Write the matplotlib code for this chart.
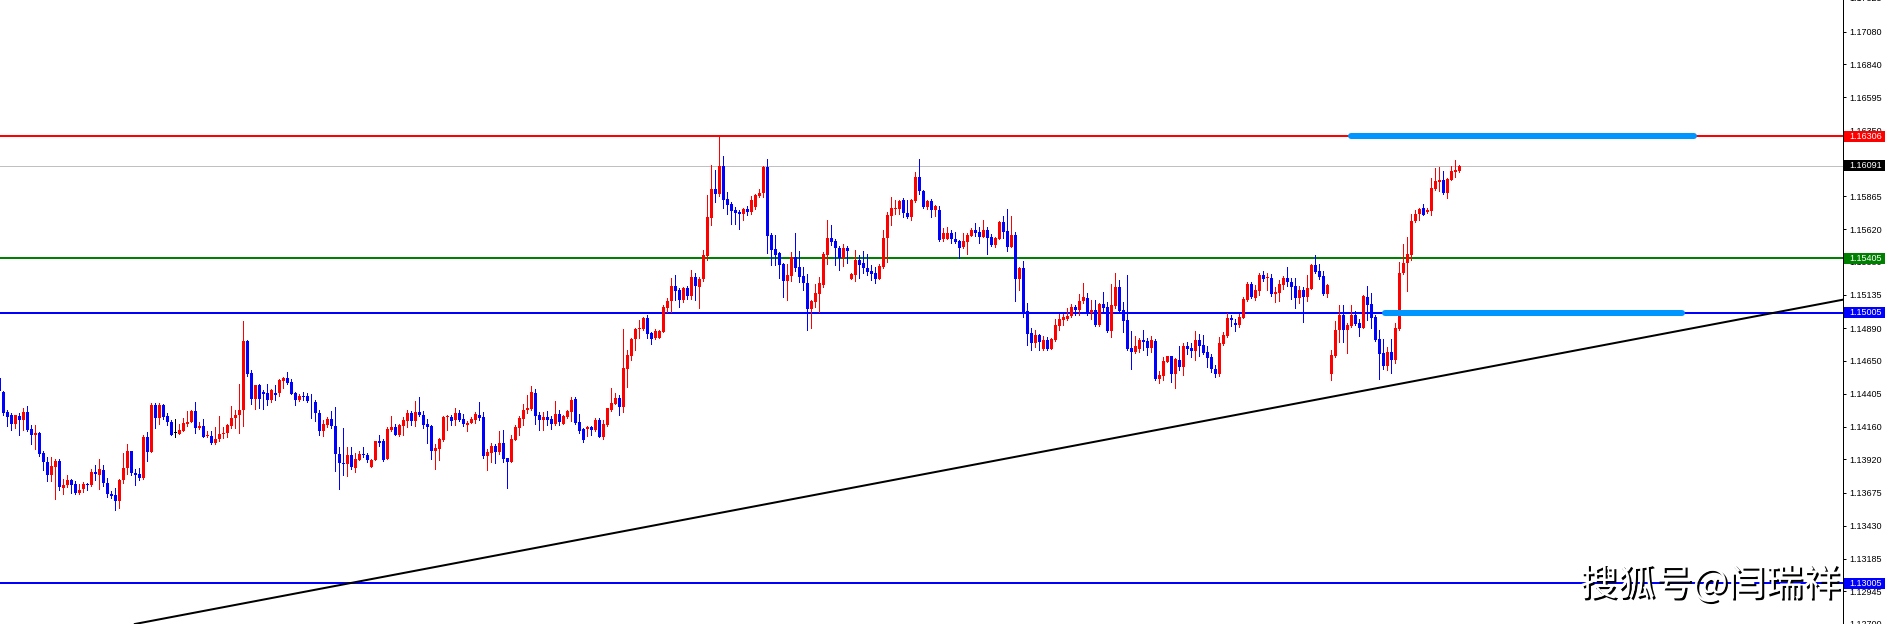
"""
EURUSD style candlestick chart (MT4 look) with support/resistance levels.
"""

import numpy as np
import matplotlib
matplotlib.use("Agg")  # no display
import matplotlib.pyplot as plt
import matplotlib.transforms as mtransforms
import matplotlib.patheffects as pe
from matplotlib.patches import Rectangle

plt.rcParams["font.family"] = ["Liberation Sans", "DejaVu Sans"]

# prices in points (1 point = 0.00001), one entry per bar
opens = np.array([
    114520, 114422, 114272, 114245, 114183, 114242, 114208, 114272, 114146, 114104,
    114116, 113969, 113903, 113802, 113868, 113910, 113706, 113728, 113770, 113740,
    113672, 113704, 113740, 113728, 113829, 113809, 113844, 113745, 113667, 113659,
    113610, 113765, 113859, 113984, 113819, 113814, 113780, 114087, 113976, 114319,
    114223, 114324, 114242, 114196, 114114, 114109, 114134, 114183, 114198, 114279,
    114149, 114171, 114092, 114094, 114043, 114070, 114109, 114112, 114171, 114225,
    114245, 114282, 114796, 114560, 114370, 114471, 114417, 114410, 114363, 114410,
    114410, 114503, 114520, 114491, 114410, 114363, 114392, 114392, 114348, 114346,
    114260, 114134, 114176, 114220, 114168, 113957, 113896, 113886, 113954, 113859,
    113918, 113962, 113954, 113868, 113918, 114058, 114058, 113925, 114141, 114159,
    114102, 114168, 114205, 114264, 114205, 114272, 114247, 114183, 114168, 113986,
    114001, 114065, 114232, 114235, 114208, 114264, 114220, 114176, 114193, 114213,
    114249, 114235, 113949, 113969, 114023, 113974, 114043, 113930, 113900, 114067,
    114156, 114220, 114284, 114294, 114412, 114247, 114213, 114235, 114220, 114183,
    114257, 114183, 114235, 114272, 114368, 114197, 114145, 114143, 114158, 114138,
    114212, 114089, 114175, 114286, 114332, 114377, 114310, 114591, 114687, 114807,
    114884, 114884, 114965, 114857, 114815, 114820, 114865, 115042, 115091, 115202,
    115175, 115098, 115185, 115130, 115268, 115197, 115251, 115426, 115707, 115918,
    115881, 116088, 115844, 115808, 115763, 115748, 115736, 115771, 115748, 115788,
    115869, 115886, 116083, 115578, 115475, 115443, 115364, 115241, 115276, 115416,
    115342, 115276, 115221, 115032, 115081, 115143, 115207, 115431, 115556, 115534,
    115485, 115408, 115480, 115253, 115283, 115394, 115372, 115337, 115312, 115298,
    115256, 115342, 115556, 115719, 115773, 115770, 115837, 115743, 115711, 115829,
    116007, 115903, 115785, 115829, 115763, 115760, 115549, 115549, 115595, 115549,
    115534, 115487, 115527, 115573, 115615, 115600, 115566, 115615, 115563, 115504,
    115549, 115674, 115608, 115492, 115578, 115253, 115334, 115017, 114852, 114783,
    114840, 114736, 114803, 114736, 114803, 114909, 114950, 114955, 114980, 115046,
    115024, 115091, 115110, 115005, 115024, 114913, 115069, 115044, 114869, 115054,
    115197, 115024, 114950, 114744, 114714, 114736, 114803, 114795, 114746, 114795,
    114515, 114539, 114643, 114684, 114551, 114655, 114601, 114758, 114744, 114721,
    114803, 114766, 114714, 114677, 114588, 114551, 114773, 114832, 114965, 114928,
    114916, 114965, 115098, 115216, 115115, 115167, 115280, 115261, 115261, 115142,
    115150, 115209, 115261, 115231, 115201, 115115, 115172, 115123, 115182, 115357,
    115312, 115275, 115142, 114552, 114687, 114877, 114987, 114877, 114909, 114987,
    114931, 114894, 115123, 115069, 114973, 114810, 114707, 114611, 114716, 114657,
    114884, 115295, 115369, 115428, 115682, 115731, 115778, 115748, 115755, 115920,
    115972, 115984, 115888, 115987, 116044, 116053,
]) / 1e5

highs = np.array([
    114533, 114429, 114282, 114267, 114252, 114267, 114302, 114316, 114176, 114176,
    114121, 113984, 113942, 113940, 113925, 113922, 113775, 113807, 113777, 113758,
    113740, 113753, 113743, 113853, 113878, 113925, 113878, 113782, 113684, 113708,
    113777, 113967, 114031, 113986, 113849, 113856, 114099, 114124, 114338, 114336,
    114338, 114329, 114267, 114213, 114220, 114181, 114223, 114279, 114287, 114341,
    114196, 114220, 114134, 114127, 114161, 114242, 114161, 114181, 114316, 114284,
    114478, 114943, 114803, 114582, 114471, 114476, 114434, 114476, 114442, 114471,
    114513, 114530, 114565, 114515, 114415, 114407, 114417, 114410, 114407, 114360,
    114284, 114213, 114235, 114279, 114304, 114009, 114154, 114011, 114009, 113969,
    113986, 114011, 113967, 113922, 114060, 114102, 114073, 114159, 114242, 114183,
    114181, 114237, 114286, 114279, 114353, 114382, 114279, 114220, 114173, 114035,
    114080, 114242, 114247, 114249, 114301, 114286, 114254, 114205, 114232, 114272,
    114345, 114272, 113996, 114043, 114033, 114131, 114139, 113932, 114099, 114176,
    114240, 114331, 114397, 114464, 114441, 114272, 114272, 114279, 114240, 114353,
    114286, 114249, 114286, 114382, 114382, 114256, 114150, 114167, 114167, 114224,
    114226, 114212, 114303, 114446, 114414, 114399, 114884, 114729, 114820, 114894,
    114950, 114975, 114987, 114862, 114881, 114879, 115062, 115116, 115258, 115283,
    115185, 115192, 115202, 115320, 115300, 115266, 115468, 115874, 116096, 116059,
    116302, 116162, 115899, 115820, 115783, 115761, 115778, 115793, 115869, 115879,
    115916, 116088, 116140, 115593, 115578, 115453, 115374, 115364, 115453, 115593,
    115460, 115342, 115288, 115098, 115216, 115268, 115453, 115689, 115652, 115549,
    115497, 115509, 115497, 115298, 115468, 115431, 115460, 115438, 115357, 115342,
    115364, 115615, 115748, 115859, 115837, 115837, 115852, 115837, 115844, 116044,
    116140, 115911, 115837, 115844, 115800, 115790, 115632, 115640, 115615, 115603,
    115541, 115591, 115591, 115627, 115664, 115640, 115689, 115635, 115588, 115566,
    115682, 115720, 115770, 115720, 115600, 115340, 115386, 115078, 114894, 114877,
    114845, 114832, 114825, 114817, 114958, 114995, 114995, 115039, 115069, 115061,
    115142, 115224, 115152, 115098, 115098, 115076, 115157, 115083, 115216, 115298,
    115246, 115086, 115283, 114869, 114832, 114815, 114876, 114815, 114832, 114810,
    114576, 114677, 114688, 114688, 114670, 114758, 114780, 114785, 114780, 114869,
    114849, 114840, 114756, 114697, 114618, 114825, 114864, 115002, 114987, 114958,
    114992, 115120, 115231, 115229, 115209, 115297, 115312, 115295, 115290, 115194,
    115246, 115275, 115342, 115261, 115261, 115202, 115197, 115283, 115366, 115430,
    115364, 115312, 115216, 114729, 114941, 115061, 115061, 114931, 115061, 115019,
    114958, 115135, 115202, 115147, 114987, 114877, 114810, 114753, 114810, 114926,
    115381, 115512, 115561, 115733, 115763, 115778, 115807, 115778, 115999, 116073,
    116080, 116051, 115999, 116088, 116132, 116098,
]) / 1e5

lows = np.array([
    114410, 114250, 114171, 114141, 114156, 114104, 114141, 114127, 114035, 113999,
    113947, 113846, 113758, 113758, 113625, 113696, 113664, 113716, 113676, 113664,
    113667, 113679, 113691, 113726, 113765, 113699, 113726, 113642, 113635, 113549,
    113559, 113743, 113812, 113802, 113735, 113767, 113775, 113910, 113974, 114156,
    114183, 114218, 114178, 114102, 114084, 114107, 114132, 114171, 114196, 114116,
    114146, 114087, 114084, 114031, 114038, 114053, 114080, 114087, 114149, 114149,
    114119, 114171, 114533, 114331, 114296, 114301, 114296, 114319, 114341, 114360,
    114392, 114449, 114476, 114402, 114319, 114353, 114356, 114346, 114230, 114201,
    114104, 114097, 114161, 114154, 113836, 113699, 113804, 113795, 113851, 113829,
    113913, 113942, 113903, 113866, 113915, 114021, 113910, 113922, 114127, 114102,
    114095, 114102, 114163, 114176, 114171, 114242, 114149, 114045, 113925, 113851,
    113917, 114058, 114139, 114176, 114176, 114203, 114168, 114134, 114188, 114186,
    114208, 113932, 113844, 113900, 113895, 113962, 113903, 113711, 113898, 114065,
    114102, 114176, 114267, 114286, 114183, 114139, 114141, 114176, 114146, 114176,
    114176, 114183, 114230, 114205, 114183, 114113, 114052, 114094, 114101, 114130,
    114084, 114069, 114167, 114278, 114327, 114251, 114271, 114458, 114655, 114729,
    114820, 114876, 114820, 114773, 114807, 114815, 114860, 115007, 115007, 115098,
    115049, 115086, 115106, 115106, 115098, 115042, 115241, 115394, 115652, 115825,
    115869, 115780, 115731, 115660, 115660, 115625, 115689, 115726, 115734, 115771,
    115861, 115857, 115443, 115357, 115357, 115263, 115123, 115098, 115239, 115312,
    115234, 115172, 114877, 114894, 115049, 115007, 115197, 115364, 115502, 115357,
    115320, 115349, 115369, 115251, 115241, 115263, 115295, 115283, 115246, 115221,
    115253, 115337, 115379, 115652, 115733, 115733, 115711, 115701, 115689, 115822,
    115881, 115778, 115768, 115711, 115719, 115536, 115534, 115546, 115522, 115522,
    115406, 115482, 115440, 115571, 115571, 115517, 115561, 115440, 115499, 115492,
    115546, 115554, 115462, 115487, 115091, 115174, 114973, 114766, 114729, 114753,
    114729, 114729, 114729, 114734, 114795, 114877, 114913, 114950, 114975, 114987,
    114990, 115076, 114987, 114958, 114906, 114906, 115005, 114862, 114827, 115041,
    115007, 114864, 114729, 114588, 114709, 114716, 114729, 114692, 114716, 114507,
    114485, 114507, 114638, 114492, 114448, 114579, 114547, 114702, 114677, 114655,
    114684, 114699, 114606, 114569, 114529, 114539, 114766, 114827, 114908, 114869,
    114901, 114963, 115091, 115110, 115096, 115135, 115238, 115174, 115125, 115086,
    115093, 115179, 115204, 115108, 115041, 115078, 114938, 115093, 115177, 115298,
    115253, 115135, 115123, 114507, 114680, 114790, 114790, 114709, 114901, 114913,
    114835, 114891, 114950, 114894, 114795, 114517, 114586, 114581, 114556, 114635,
    114877, 115290, 115165, 115394, 115674, 115689, 115726, 115741, 115726, 115911,
    115903, 115881, 115854, 115984, 116009, 116041,
]) / 1e5

closes = np.array([
    114427, 114267, 114237, 114183, 114245, 114208, 114272, 114139, 114104, 114116,
    113962, 113898, 113807, 113873, 113908, 113714, 113733, 113770, 113733, 113672,
    113696, 113740, 113728, 113829, 113812, 113851, 113745, 113667, 113652, 113610,
    113770, 113859, 113984, 113819, 113807, 113780, 114087, 113976, 114321, 114223,
    114326, 114233, 114196, 114104, 114114, 114139, 114188, 114198, 114279, 114149,
    114171, 114089, 114097, 114045, 114070, 114109, 114119, 114176, 114228, 114252,
    114287, 114796, 114552, 114370, 114469, 114370, 114407, 114360, 114434, 114400,
    114508, 114520, 114486, 114405, 114363, 114390, 114385, 114351, 114341, 114260,
    114134, 114183, 114218, 114164, 113959, 113893, 113886, 113954, 113861, 113922,
    113962, 113954, 113915, 113918, 114058, 114045, 113918, 114146, 114161, 114104,
    114176, 114213, 114264, 114205, 114272, 114245, 114178, 114163, 113986, 114008,
    114072, 114237, 114240, 114205, 114264, 114213, 114181, 114190, 114220, 114257,
    114227, 113947, 113974, 114021, 113976, 114040, 113927, 113905, 114072, 114163,
    114230, 114286, 114301, 114419, 114242, 114213, 114235, 114215, 114183, 114254,
    114198, 114242, 114277, 114360, 114190, 114130, 114064, 114158, 114140, 114212,
    114089, 114182, 114298, 114335, 114374, 114310, 114596, 114692, 114810, 114884,
    114889, 114965, 114849, 114812, 114869, 114869, 115047, 115091, 115202, 115167,
    115101, 115185, 115130, 115268, 115204, 115254, 115431, 115711, 115918, 115884,
    116088, 115840, 115800, 115756, 115743, 115734, 115771, 115751, 115837, 115874,
    115886, 116083, 115571, 115468, 115431, 115357, 115241, 115283, 115413, 115337,
    115271, 115221, 115032, 115091, 115147, 115221, 115438, 115556, 115527, 115480,
    115408, 115480, 115460, 115290, 115394, 115357, 115337, 115305, 115293, 115256,
    115349, 115556, 115726, 115775, 115780, 115832, 115738, 115714, 115837, 116007,
    115903, 115785, 115829, 115763, 115793, 115541, 115591, 115591, 115549, 115529,
    115482, 115534, 115578, 115615, 115595, 115566, 115615, 115559, 115504, 115554,
    115674, 115603, 115492, 115578, 115253, 115334, 115010, 114849, 114783, 114840,
    114788, 114803, 114734, 114810, 114913, 114958, 114975, 114982, 115046, 115024,
    115091, 115120, 115005, 115024, 114913, 115069, 115039, 114869, 115061, 115194,
    115017, 114945, 114736, 114716, 114758, 114803, 114790, 114746, 114803, 114515,
    114544, 114648, 114684, 114551, 114662, 114603, 114758, 114736, 114721, 114803,
    114758, 114707, 114672, 114588, 114551, 114780, 114840, 114963, 114953, 114916,
    114972, 115105, 115216, 115120, 115172, 115283, 115253, 115268, 115145, 115160,
    115216, 115261, 115229, 115194, 115115, 115172, 115123, 115189, 115357, 115305,
    115268, 115142, 115209, 114692, 114877, 114987, 114877, 114913, 114987, 114923,
    114894, 115130, 115061, 114968, 114803, 114702, 114611, 114716, 114657, 114889,
    115295, 115369, 115435, 115682, 115731, 115770, 115728, 115763, 115925, 115977,
    115984, 115886, 115992, 116051, 116058, 116088,
]) / 1e5

# horizontal levels drawn on the chart
levels = [1.16306, 1.16091, 1.15405, 1.15005, 1.13005]
level_line_colors = ["#ff0000", "#c0c0c0", "#008000", "#0000ff", "#0000ff"]
level_box_colors = ["#ff0000", "#000000", "#008000", "#0000ff", "#0000ff"]
level_widths_px = [2, 1, 2, 2, 2]

# price scale labels
tick_values = [1.17325, 1.17080, 1.16840, 1.16595, 1.16350, 1.16110, 1.15865,
               1.15620, 1.15380, 1.15135, 1.14890, 1.14650, 1.14405, 1.14160,
               1.13920, 1.13675, 1.13430, 1.13185, 1.12945, 1.12700]

# rising trend line through two anchors (bar index, price)
trend_a = (87.4, 1.13005)
trend_b = (443.9, 1.15005)

# thick target bands (start bar, end bar, price)
bands = [(337.9, 423.7, 1.16306), (346.4, 420.7, 1.15005)]

watermark = "搜狐号@闫瑞祥"

W, H = 1887, 624
AX_RIGHT = 1842.5
PX = 0.72  # one pixel in points at dpi 100

fig = plt.figure(figsize=(W / 100, H / 100), dpi=100)
ax = fig.add_axes([0, 0, AX_RIGHT / W, 1])
ax.set_xlim(0.1675, 460.79)
ax.set_ylim(1.127048, 1.17314)

x = np.arange(len(opens))
colors = np.where(closes > opens, "#ff0000",
                  np.where(closes < opens, "#0000ff", "#000000"))

# wicks and bodies
ax.vlines(x, lows, highs, colors=colors, linewidth=PX, antialiased=False, zorder=3)
body_low = np.minimum(opens, closes)
body_h = np.maximum(np.abs(closes - opens), 0.00007)
ax.bar(x, body_h, bottom=body_low, width=0.75, color=colors, linewidth=0,
       antialiased=False, zorder=3)

for lvl, c, w in zip(levels, level_line_colors, level_widths_px):
    ax.axhline(lvl, color=c, linewidth=w * PX, zorder=2)

ax.axline(trend_a, trend_b, color="black", linewidth=2 * PX, zorder=2)

for x0, x1, y in bands:
    ax.plot([x0, x1], [y, y], color="#0096ff", linewidth=6 * PX,
            solid_capstyle="round", zorder=5)

# right price axis
for side in ["left", "top", "bottom"]:
    ax.spines[side].set_visible(False)
ax.spines["right"].set_linewidth(PX)
ax.spines["right"].set_color("black")
ax.set_xticks([])
ylo, yhi = ax.get_ylim()
inside = [v for v in tick_values if ylo <= v <= yhi]
ax.yaxis.tick_right()
ax.set_yticks(inside)
ax.set_yticklabels([f"{v:.5f}" for v in inside])
ax.tick_params(axis="y", length=3 * PX, width=PX, pad=2.5, labelsize=6.5,
               colors="black")

blend = mtransforms.blended_transform_factory(fig.transFigure, ax.transData)
label_x = 1849 / W
for v in tick_values:
    if not (ylo <= v <= yhi):
        fig.text(label_x, v, f"{v:.5f}", transform=blend, fontsize=6.5,
                 va="center", ha="left", color="black")

box_h = 11 * (yhi - ylo) / H
for lvl, c in zip(levels, level_box_colors):
    fig.add_artist(Rectangle((1843.5 / W, lvl - box_h / 2), 41.5 / W, box_h,
                             transform=blend, facecolor=c, edgecolor="none",
                             zorder=5))
    fig.text(label_x, lvl, f"{lvl:.5f}", transform=blend, fontsize=6.5,
             va="center", ha="left", color="white", zorder=6)

fig.text(1580 / W, 1 - 585 / H, watermark, fontsize=27,
         family=["Noto Sans CJK SC", "DejaVu Sans"], color="white",
         va="center", ha="left", zorder=7,
         path_effects=[pe.withSimplePatchShadow(offset=(1.5, -1.5),
                                                shadow_rgbFace="black",
                                                alpha=1.0)])

fig.savefig("out.png", dpi=100)
plt.close(fig)
